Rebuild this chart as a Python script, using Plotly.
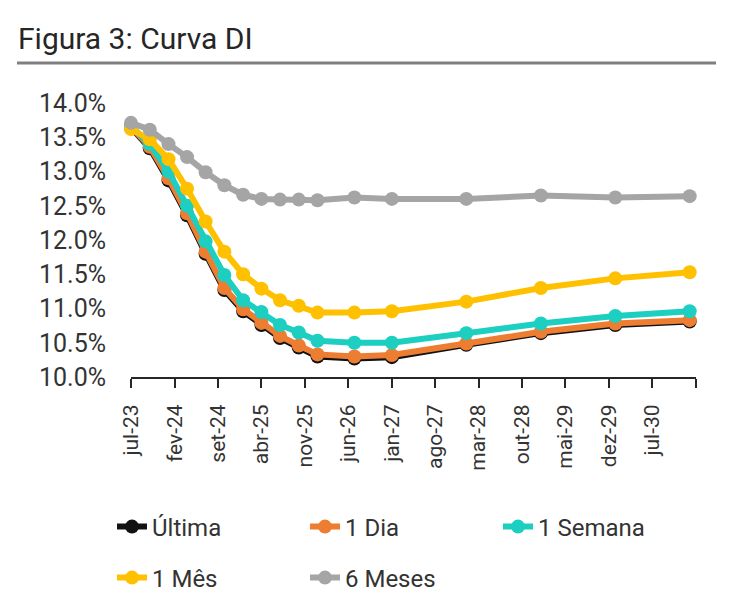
import plotly.graph_objects as go

# vencimentos dos contratos DI (eixo x) e taxas em % a.a.
vencimentos = ["2023-07-01", "2023-10-01", "2024-01-01", "2024-04-01", "2024-07-01",
               "2024-10-01", "2025-01-01", "2025-04-01", "2025-07-01", "2025-10-01",
               "2026-01-01", "2026-07-01", "2027-01-01", "2028-01-01", "2029-01-01",
               "2030-01-01", "2031-01-01"]

ultima = [13.64, 13.34, 12.87, 12.36, 11.80, 11.27, 10.96, 10.76, 10.57, 10.43,
          10.30, 10.27, 10.29, 10.47, 10.64, 10.76, 10.81]
um_dia = [13.65, 13.36, 12.90, 12.39, 11.83, 11.30, 10.99, 10.79, 10.60, 10.46,
          10.33, 10.30, 10.32, 10.49, 10.66, 10.78, 10.83]
uma_semana = [13.66, 13.40, 13.00, 12.50, 11.98, 11.49, 11.12, 10.95, 10.76, 10.65,
              10.53, 10.50, 10.50, 10.64, 10.78, 10.89, 10.96]
um_mes = [13.62, 13.47, 13.18, 12.75, 12.27, 11.83, 11.50, 11.29, 11.12, 11.04,
          10.94, 10.94, 10.96, 11.10, 11.30, 11.44, 11.53]
seis_meses = [13.71, 13.61, 13.40, 13.21, 12.99, 12.80, 12.66, 12.60, 12.59, 12.59,
              12.58, 12.62, 12.60, 12.60, 12.65, 12.62, 12.64]

tick_datas = ["2023-07-01", "2024-02-01", "2024-09-01", "2025-04-01", "2025-11-01",
              "2026-06-01", "2027-01-01", "2027-08-01", "2028-03-01", "2028-10-01",
              "2029-05-01", "2029-12-01", "2030-07-01", "2031-02-01"]
tick_labels = ["jul-23", "fev-24", "set-24", "abr-25", "nov-25", "jun-26", "jan-27",
               "ago-27", "mar-28", "out-28", "mai-29", "dez-29", "jul-30", ""]

series = [
    ("Última", ultima, "#111111", "legend"),
    ("1 Dia", um_dia, "#ED7D31", "legend"),
    ("1 Semana", uma_semana, "#1CCFC0", "legend"),
    ("1 Mês", um_mes, "#FFC000", "legend2"),
    ("6 Meses", seis_meses, "#A5A5A5", "legend2"),
]

fig = go.Figure()
for nome, valores, cor, leg in series:
    fig.add_trace(go.Scatter(
        x=vencimentos, y=valores, name=nome, mode="lines+markers",
        line=dict(color=cor, width=6),
        marker=dict(color=cor, size=14),
        cliponaxis=False,
        legend=leg,
    ))

# a pagina tem 8px de margem no body: a figura fica 8px menor e deslocada
W, H = 724, 608
off = 8
l, r, t, b = 131 - off, 36, 103 - off, 239
plot_w = W - l - r
plot_h = H - t - b

txt = "#333333"
legenda = dict(orientation="h", xref="paper", yref="paper",
               xanchor="left", yanchor="middle",
               font=dict(family="Roboto", size=24, color=txt),
               entrywidth=148, entrywidthmode="pixels",
               bgcolor="rgba(0,0,0,0)")
leg_x = (112 - off - l) / plot_w

fig.update_layout(
    width=W, height=H,
    paper_bgcolor="white", plot_bgcolor="white",
    margin=dict(l=l, r=r, t=t, b=b, autoexpand=False),
    title=dict(text="Figura 3: Curva DI", xref="container", yref="container",
               x=(18 - off) / W, xanchor="left", y=1 - (38 - off) / H, yanchor="middle",
               font=dict(family="Roboto", size=30, color="#262626")),
    showlegend=True,
    legend=dict(legenda, x=leg_x, y=-(527 - off - (H - b)) / plot_h),
    legend2=dict(legenda, x=leg_x, y=-(578 - off - (H - b)) / plot_h),
    xaxis=dict(
        type="date", range=["2023-07-01", "2031-02-01"],
        tickmode="array", tickvals=tick_datas, ticktext=tick_labels,
        tickangle=-90, ticks="outside", ticklen=9, tickwidth=2, tickcolor="#262626",
        showline=True, linecolor="#262626", linewidth=2,
        showgrid=False, zeroline=False, ticklabelstandoff=8,
        tickfont=dict(family="Roboto", size=21, color=txt),
    ),
    yaxis=dict(
        range=[10, 14], dtick=0.5, tick0=10, tickformat=".1f", ticksuffix="%",
        showgrid=False, zeroline=False, showline=False, ticks="",
        ticklabelstandoff=24,
        tickfont=dict(family="Roboto", size=25, color=txt),
    ),
    shapes=[dict(type="line", xref="paper", yref="paper",
                 x0=(17 - 131) / 565, x1=(716 - 131) / 565,
                 y0=1 + 40 / plot_h, y1=1 + 40 / plot_h,
                 line=dict(color="#7F7F7F", width=3))],
)

fig.write_html("out.html")
